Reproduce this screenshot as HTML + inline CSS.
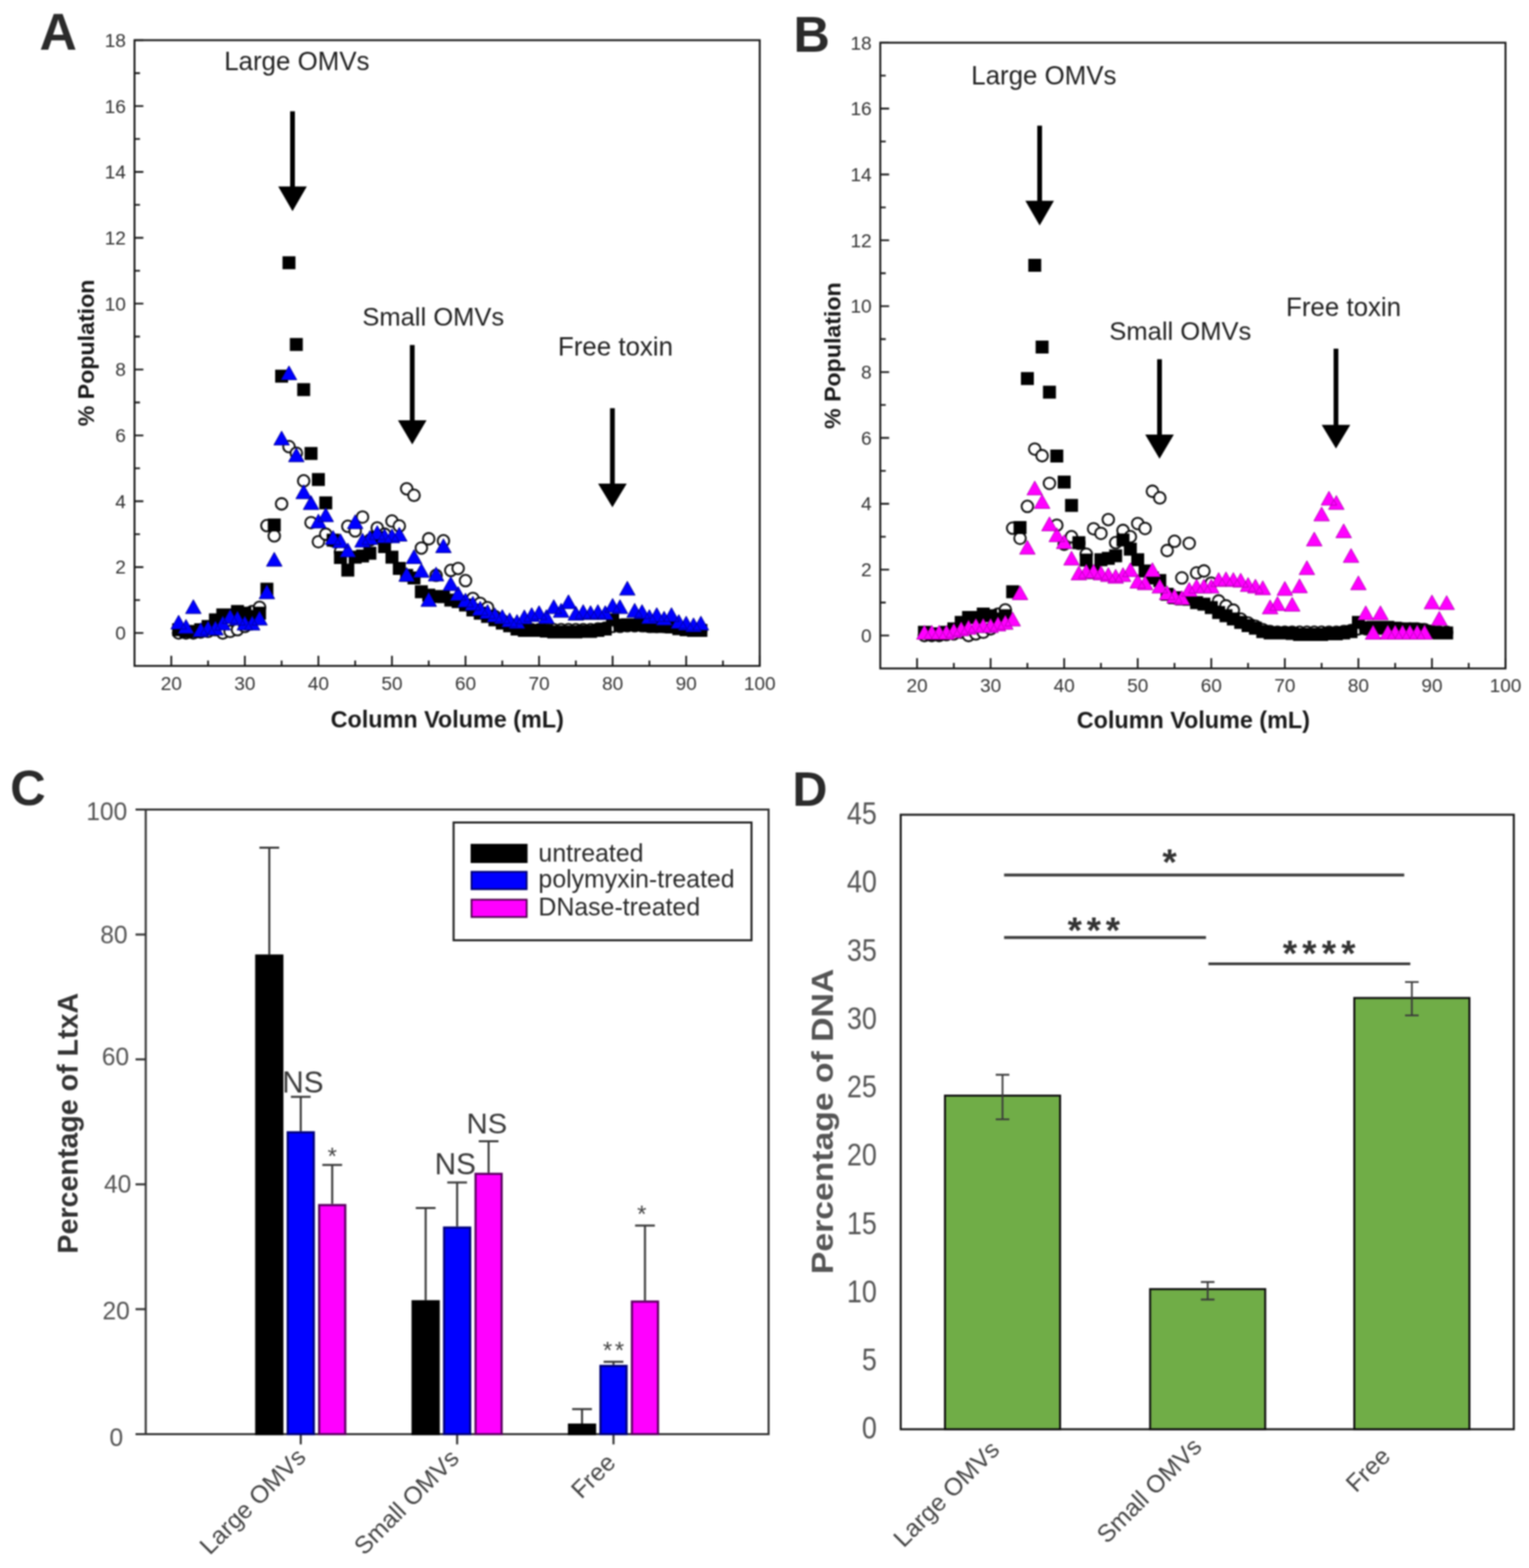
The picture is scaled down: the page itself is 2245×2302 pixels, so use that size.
<!DOCTYPE html>
<html><head><meta charset="utf-8"><title>Figure</title>
<style>html,body{margin:0;padding:0;background:#fff;}svg{display:block;filter:blur(1px);}text{font-family:'Liberation Sans', Arial, sans-serif;}</style>
</head><body>
<svg width="2245" height="2302" viewBox="0 0 2245 2302">
<rect width="2245" height="2302" fill="#fff"/>
<g>
<rect x="197.5" y="59" width="918" height="918.65" fill="none" stroke="#1a1a1a" stroke-width="2.8"/>
<path d="M251.5 977.65v-15 M305.5 977.65v-8 M359.5 977.65v-15 M413.5 977.65v-8 M467.5 977.65v-15 M521.5 977.65v-8 M575.5 977.65v-15 M629.5 977.65v-8 M683.5 977.65v-15 M737.5 977.65v-8 M791.5 977.65v-15 M845.5 977.65v-8 M899.5 977.65v-15 M953.5 977.65v-8 M1007.5 977.65v-15 M1061.5 977.65v-8 M1115.5 977.65v-15 M197.5 929.3h13 M197.5 880.95h8 M197.5 832.6h13 M197.5 784.25h8 M197.5 735.9h13 M197.5 687.55h8 M197.5 639.2h13 M197.5 590.85h8 M197.5 542.5h13 M197.5 494.15h8 M197.5 445.8h13 M197.5 397.45h8 M197.5 349.1h13 M197.5 300.75h8 M197.5 252.4h13 M197.5 204.05h8 M197.5 155.7h13 M197.5 107.35h8 M197.5 59h13" stroke="#1a1a1a" stroke-width="2.6" fill="none"/>
<text x="251.5" y="1012.65" font-size="28" fill="#333" text-anchor="middle" font-weight="normal" >20</text>
<text x="359.5" y="1012.65" font-size="28" fill="#333" text-anchor="middle" font-weight="normal" >30</text>
<text x="467.5" y="1012.65" font-size="28" fill="#333" text-anchor="middle" font-weight="normal" >40</text>
<text x="575.5" y="1012.65" font-size="28" fill="#333" text-anchor="middle" font-weight="normal" >50</text>
<text x="683.5" y="1012.65" font-size="28" fill="#333" text-anchor="middle" font-weight="normal" >60</text>
<text x="791.5" y="1012.65" font-size="28" fill="#333" text-anchor="middle" font-weight="normal" >70</text>
<text x="899.5" y="1012.65" font-size="28" fill="#333" text-anchor="middle" font-weight="normal" >80</text>
<text x="1007.5" y="1012.65" font-size="28" fill="#333" text-anchor="middle" font-weight="normal" >90</text>
<text x="1115.5" y="1012.65" font-size="28" fill="#333" text-anchor="middle" font-weight="normal" >100</text>
<text x="184.8" y="939.1" font-size="28" fill="#333" text-anchor="end" font-weight="normal" >0</text>
<text x="184.8" y="842.4" font-size="28" fill="#333" text-anchor="end" font-weight="normal" >2</text>
<text x="184.8" y="745.7" font-size="28" fill="#333" text-anchor="end" font-weight="normal" >4</text>
<text x="184.8" y="649" font-size="28" fill="#333" text-anchor="end" font-weight="normal" >6</text>
<text x="184.8" y="552.3" font-size="28" fill="#333" text-anchor="end" font-weight="normal" >8</text>
<text x="184.8" y="455.6" font-size="28" fill="#333" text-anchor="end" font-weight="normal" >10</text>
<text x="184.8" y="358.9" font-size="28" fill="#333" text-anchor="end" font-weight="normal" >12</text>
<text x="184.8" y="262.2" font-size="28" fill="#333" text-anchor="end" font-weight="normal" >14</text>
<text x="184.8" y="165.5" font-size="28" fill="#333" text-anchor="end" font-weight="normal" >16</text>
<text x="184.8" y="68.8" font-size="28" fill="#333" text-anchor="end" font-weight="normal" >18</text>
<g fill="#fff" stroke="#111" stroke-width="2.8"><circle cx="262.3" cy="929.3" r="8.5"/><circle cx="273.1" cy="929.3" r="8.5"/><circle cx="283.9" cy="929.3" r="8.5"/><circle cx="294.7" cy="927.85" r="8.5"/><circle cx="305.5" cy="926.88" r="8.5"/><circle cx="316.3" cy="924.46" r="8.5"/><circle cx="327.1" cy="929.3" r="8.5"/><circle cx="337.9" cy="926.88" r="8.5"/><circle cx="348.7" cy="924.46" r="8.5"/><circle cx="359.5" cy="919.63" r="8.5"/><circle cx="370.3" cy="897.87" r="8.5"/><circle cx="381.1" cy="891.59" r="8.5"/><circle cx="391.9" cy="771.68" r="8.5"/><circle cx="402.7" cy="786.67" r="8.5"/><circle cx="413.5" cy="739.77" r="8.5"/><circle cx="424.3" cy="655.64" r="8.5"/><circle cx="435.1" cy="665.31" r="8.5"/><circle cx="445.9" cy="705.92" r="8.5"/><circle cx="456.7" cy="767.33" r="8.5"/><circle cx="467.5" cy="795.37" r="8.5"/><circle cx="478.3" cy="784.25" r="8.5"/><circle cx="489.1" cy="793.92" r="8.5"/><circle cx="499.9" cy="809.88" r="8.5"/><circle cx="510.7" cy="772.65" r="8.5"/><circle cx="521.5" cy="779.41" r="8.5"/><circle cx="532.3" cy="759.11" r="8.5"/><circle cx="543.1" cy="792.95" r="8.5"/><circle cx="553.9" cy="775.06" r="8.5"/><circle cx="564.7" cy="784.25" r="8.5"/><circle cx="575.5" cy="764.91" r="8.5"/><circle cx="586.3" cy="772.16" r="8.5"/><circle cx="597.1" cy="717.53" r="8.5"/><circle cx="607.9" cy="727.2" r="8.5"/><circle cx="618.7" cy="804.56" r="8.5"/><circle cx="629.5" cy="791.02" r="8.5"/><circle cx="640.3" cy="844.69" r="8.5"/><circle cx="651.1" cy="793.92" r="8.5"/><circle cx="661.9" cy="837.43" r="8.5"/><circle cx="672.7" cy="834.53" r="8.5"/><circle cx="683.5" cy="852.42" r="8.5"/><circle cx="694.3" cy="878.53" r="8.5"/><circle cx="705.1" cy="885.78" r="8.5"/><circle cx="715.9" cy="892.07" r="8.5"/><circle cx="726.7" cy="905.12" r="8.5"/><circle cx="737.5" cy="910.93" r="8.5"/><circle cx="748.3" cy="915.76" r="8.5"/><circle cx="759.1" cy="920.6" r="8.5"/><circle cx="769.9" cy="923.5" r="8.5"/><circle cx="780.7" cy="924.46" r="8.5"/><circle cx="791.5" cy="924.46" r="8.5"/><circle cx="802.3" cy="924.46" r="8.5"/><circle cx="813.1" cy="924.46" r="8.5"/><circle cx="823.9" cy="924.46" r="8.5"/><circle cx="834.7" cy="924.46" r="8.5"/><circle cx="845.5" cy="924.46" r="8.5"/><circle cx="856.3" cy="924.46" r="8.5"/><circle cx="867.1" cy="924.46" r="8.5"/><circle cx="877.9" cy="923.5" r="8.5"/><circle cx="888.7" cy="922.05" r="8.5"/><circle cx="899.5" cy="919.63" r="8.5"/><circle cx="910.3" cy="919.63" r="8.5"/><circle cx="921.1" cy="918.66" r="8.5"/><circle cx="931.9" cy="918.66" r="8.5"/><circle cx="942.7" cy="918.66" r="8.5"/><circle cx="953.5" cy="919.63" r="8.5"/><circle cx="964.3" cy="919.63" r="8.5"/><circle cx="975.1" cy="919.63" r="8.5"/><circle cx="985.9" cy="919.63" r="8.5"/><circle cx="996.7" cy="920.6" r="8.5"/><circle cx="1007.5" cy="923.5" r="8.5"/><circle cx="1018.3" cy="924.46" r="8.5"/><circle cx="1029.1" cy="924.46" r="8.5"/></g>
<path fill="#000" d="M252.8 914.96h19.0v19.0h-19.0z M263.6 917.38h19.0v19.0h-19.0z M274.4 917.38h19.0v19.0h-19.0z M285.2 914.96h19.0v19.0h-19.0z M296 910.13h19.0v19.0h-19.0z M306.8 900.46h19.0v19.0h-19.0z M317.6 893.21h19.0v19.0h-19.0z M328.4 893.21h19.0v19.0h-19.0z M339.2 888.37h19.0v19.0h-19.0z M350 890.79h19.0v19.0h-19.0z M360.8 895.62h19.0v19.0h-19.0z M371.6 890.79h19.0v19.0h-19.0z M382.4 855.49h19.0v19.0h-19.0z M393.2 761.21h19.0v19.0h-19.0z M404 542.67h19.0v19.0h-19.0z M414.8 376.35h19.0v19.0h-19.0z M425.6 496.25h19.0v19.0h-19.0z M436.4 562.49h19.0v19.0h-19.0z M447.2 656.29h19.0v19.0h-19.0z M458 694.49h19.0v19.0h-19.0z M468.8 728.82h19.0v19.0h-19.0z M479.6 783.45h19.0v19.0h-19.0z M490.4 809.08h19.0v19.0h-19.0z M501.2 827.45h19.0v19.0h-19.0z M512 808.59h19.0v19.0h-19.0z M522.8 806.66h19.0v19.0h-19.0z M533.6 802.79h19.0v19.0h-19.0z M544.4 779.58h19.0v19.0h-19.0z M555.2 793.12h19.0v19.0h-19.0z M566 808.59h19.0v19.0h-19.0z M576.8 825.03h19.0v19.0h-19.0z M587.6 835.19h19.0v19.0h-19.0z M598.4 839.06h19.0v19.0h-19.0z M609.2 859.36h19.0v19.0h-19.0z M620 864.2h19.0v19.0h-19.0z M630.8 866.13h19.0v19.0h-19.0z M641.6 866.61h19.0v19.0h-19.0z M652.4 871.45h19.0v19.0h-19.0z M663.2 873.87h19.0v19.0h-19.0z M674 878.7h19.0v19.0h-19.0z M684.8 885.95h19.0v19.0h-19.0z M695.6 890.79h19.0v19.0h-19.0z M706.4 895.62h19.0v19.0h-19.0z M717.2 900.46h19.0v19.0h-19.0z M728 905.29h19.0v19.0h-19.0z M738.8 909.16h19.0v19.0h-19.0z M749.6 914h19.0v19.0h-19.0z M760.4 915.93h19.0v19.0h-19.0z M771.2 915.93h19.0v19.0h-19.0z M782 915.93h19.0v19.0h-19.0z M792.8 916.9h19.0v19.0h-19.0z M803.6 918.35h19.0v19.0h-19.0z M814.4 918.35h19.0v19.0h-19.0z M825.2 918.35h19.0v19.0h-19.0z M836 918.35h19.0v19.0h-19.0z M846.8 917.38h19.0v19.0h-19.0z M857.6 917.38h19.0v19.0h-19.0z M868.4 915.93h19.0v19.0h-19.0z M879.2 914h19.0v19.0h-19.0z M890 900.46h19.0v19.0h-19.0z M900.8 908.2h19.0v19.0h-19.0z M911.6 907.71h19.0v19.0h-19.0z M922.4 907.71h19.0v19.0h-19.0z M933.2 907.71h19.0v19.0h-19.0z M944 909.16h19.0v19.0h-19.0z M954.8 910.13h19.0v19.0h-19.0z M965.6 910.13h19.0v19.0h-19.0z M976.4 911.1h19.0v19.0h-19.0z M987.2 913.51h19.0v19.0h-19.0z M998 914.96h19.0v19.0h-19.0z M1008.8 915.93h19.0v19.0h-19.0z M1019.6 915.93h19.0v19.0h-19.0z"/>
<path fill="#0000ff" stroke="#00008a" stroke-width="1" stroke-linejoin="round" d="M262.3 903.09L273.8 923.59H250.8z M273.1 909.38L284.6 929.88H261.6z M283.9 880.37L295.4 900.87H272.4z M294.7 914.21L306.2 934.71H283.2z M305.5 911.8L317 932.3H294z M316.3 911.8L327.8 932.3H304.8z M327.1 904.54L338.6 925.04H315.6z M337.9 894.88L349.4 915.38H326.4z M348.7 897.29L360.2 917.79H337.2z M359.5 904.54L371 925.04H348z M370.3 904.54L381.8 925.04H358.8z M381.1 897.29L392.6 917.79H369.6z M391.9 858.61L403.4 879.11H380.4z M402.7 810.75L414.2 831.25H391.2z M413.5 632.82L425 653.32H402z M424.3 537.08L435.8 557.58H412.8z M435.1 657.48L446.6 677.98H423.6z M445.9 711.63L457.4 732.13H434.4z M456.7 727.58L468.2 748.08H445.2z M467.5 754.66L479 775.16H456z M478.3 745.47L489.8 765.97H466.8z M489.1 778.83L500.6 799.33H477.6z M499.9 783.67L511.4 804.17H488.4z M510.7 797.21L522.2 817.71H499.2z M521.5 755.63L533 776.13H510z M532.3 782.7L543.8 803.2H520.8z M543.1 778.83L554.6 799.33H531.6z M553.9 771.58L565.4 792.08H542.4z M564.7 776.42L576.2 796.92H553.2z M575.5 776.42L587 796.92H564z M586.3 774L597.8 794.5H574.8z M597.1 832.99L608.6 853.49H585.6z M607.9 806.88L619.4 827.38H596.4z M618.7 827.18L630.2 847.68H607.2z M629.5 869.73L641 890.23H618z M640.3 832.5L651.8 853H628.8z M651.1 790.92L662.6 811.42H639.6z M661.9 846.52L673.4 867.02H650.4z M672.7 861.03L684.2 881.53H661.2z M683.5 870.7L695 891.2H672z M694.3 875.53L705.8 896.03H682.8z M705.1 882.79L716.6 903.29H693.6z M715.9 887.62L727.4 908.12H704.4z M726.7 892.46L738.2 912.96H715.2z M737.5 894.88L749 915.38H726z M748.3 899.71L759.8 920.21H736.8z M759.1 902.13L770.6 922.63H747.6z M769.9 895.36L781.4 915.86H758.4z M780.7 891.97L792.2 912.47H769.2z M791.5 889.07L803 909.57H780z M802.3 894.88L813.8 915.38H790.8z M813.1 880.37L824.6 900.87H801.6z M823.9 885.69L835.4 906.19H812.4z M834.7 873.12L846.2 893.62H823.2z M845.5 890.04L857 910.54H834z M856.3 887.62L867.8 908.12H844.8z M867.1 889.07L878.6 909.57H855.6z M877.9 887.62L889.4 908.12H866.4z M888.7 889.07L900.2 909.57H877.2z M899.5 878.44L911 898.94H888z M910.3 880.37L921.8 900.87H898.8z M921.1 853.29L932.6 873.79H909.6z M931.9 885.69L943.4 906.19H920.4z M942.7 887.62L954.2 908.12H931.2z M953.5 894.88L965 915.38H942z M964.3 891.97L975.8 912.47H952.8z M975.1 897.29L986.6 917.79H963.6z M985.9 891.97L997.4 912.47H974.4z M996.7 902.13L1008.2 922.63H985.2z M1007.5 904.54L1019 925.04H996z M1018.3 906.96L1029.8 927.46H1006.8z M1029.1 904.54L1040.6 925.04H1017.6z"/>
<text x="329.2" y="102.8" font-size="38" fill="#222" text-anchor="start" font-weight="normal" >Large OMVs</text>
<rect x="426" y="163.4" width="7" height="112.3" fill="#000"/>
<path d="M408.5 273.7H450.5L429.5 310z" fill="#000"/>
<text x="532" y="477.8" font-size="37.5" fill="#222" text-anchor="start" font-weight="normal" >Small OMVs</text>
<rect x="601.8" y="506.5" width="7" height="112.6" fill="#000"/>
<path d="M584.3 617.1H626.3L605.3 652.6z" fill="#000"/>
<text x="819.2" y="522" font-size="38" fill="#222" text-anchor="start" font-weight="normal" >Free toxin</text>
<rect x="895.7" y="599.3" width="7" height="112.6" fill="#000"/>
<path d="M878.2 709.9H920.2L899.2 744.8z" fill="#000"/>
</g>
<text x="656.7" y="1067.5" font-size="34.3" fill="#1a1a1a" text-anchor="middle" font-weight="bold" >Column Volume (mL)</text>
<text x="0" y="0" font-size="34" fill="#1a1a1a" text-anchor="middle" font-weight="bold" transform="translate(138.1 518.2) rotate(-90)">% Population</text>
<text x="58.1" y="72.5" font-size="76" fill="#2b2b2b" text-anchor="start" font-weight="bold" >A</text>
<g>
<rect x="1292.5" y="62.7" width="918" height="918.65" fill="none" stroke="#1a1a1a" stroke-width="2.8"/>
<path d="M1346.5 981.35v-15 M1400.5 981.35v-8 M1454.5 981.35v-15 M1508.5 981.35v-8 M1562.5 981.35v-15 M1616.5 981.35v-8 M1670.5 981.35v-15 M1724.5 981.35v-8 M1778.5 981.35v-15 M1832.5 981.35v-8 M1886.5 981.35v-15 M1940.5 981.35v-8 M1994.5 981.35v-15 M2048.5 981.35v-8 M2102.5 981.35v-15 M2156.5 981.35v-8 M2210.5 981.35v-15 M1292.5 933h13 M1292.5 884.65h8 M1292.5 836.3h13 M1292.5 787.95h8 M1292.5 739.6h13 M1292.5 691.25h8 M1292.5 642.9h13 M1292.5 594.55h8 M1292.5 546.2h13 M1292.5 497.85h8 M1292.5 449.5h13 M1292.5 401.15h8 M1292.5 352.8h13 M1292.5 304.45h8 M1292.5 256.1h13 M1292.5 207.75h8 M1292.5 159.4h13 M1292.5 111.05h8 M1292.5 62.7h13" stroke="#1a1a1a" stroke-width="2.6" fill="none"/>
<text x="1346.5" y="1016.35" font-size="28" fill="#333" text-anchor="middle" font-weight="normal" >20</text>
<text x="1454.5" y="1016.35" font-size="28" fill="#333" text-anchor="middle" font-weight="normal" >30</text>
<text x="1562.5" y="1016.35" font-size="28" fill="#333" text-anchor="middle" font-weight="normal" >40</text>
<text x="1670.5" y="1016.35" font-size="28" fill="#333" text-anchor="middle" font-weight="normal" >50</text>
<text x="1778.5" y="1016.35" font-size="28" fill="#333" text-anchor="middle" font-weight="normal" >60</text>
<text x="1886.5" y="1016.35" font-size="28" fill="#333" text-anchor="middle" font-weight="normal" >70</text>
<text x="1994.5" y="1016.35" font-size="28" fill="#333" text-anchor="middle" font-weight="normal" >80</text>
<text x="2102.5" y="1016.35" font-size="28" fill="#333" text-anchor="middle" font-weight="normal" >90</text>
<text x="2210.5" y="1016.35" font-size="28" fill="#333" text-anchor="middle" font-weight="normal" >100</text>
<text x="1279.8" y="942.8" font-size="28" fill="#333" text-anchor="end" font-weight="normal" >0</text>
<text x="1279.8" y="846.1" font-size="28" fill="#333" text-anchor="end" font-weight="normal" >2</text>
<text x="1279.8" y="749.4" font-size="28" fill="#333" text-anchor="end" font-weight="normal" >4</text>
<text x="1279.8" y="652.7" font-size="28" fill="#333" text-anchor="end" font-weight="normal" >6</text>
<text x="1279.8" y="556" font-size="28" fill="#333" text-anchor="end" font-weight="normal" >8</text>
<text x="1279.8" y="459.3" font-size="28" fill="#333" text-anchor="end" font-weight="normal" >10</text>
<text x="1279.8" y="362.6" font-size="28" fill="#333" text-anchor="end" font-weight="normal" >12</text>
<text x="1279.8" y="265.9" font-size="28" fill="#333" text-anchor="end" font-weight="normal" >14</text>
<text x="1279.8" y="169.2" font-size="28" fill="#333" text-anchor="end" font-weight="normal" >16</text>
<text x="1279.8" y="72.5" font-size="28" fill="#333" text-anchor="end" font-weight="normal" >18</text>
<g fill="#fff" stroke="#111" stroke-width="2.8"><circle cx="1357.3" cy="933" r="8.5"/><circle cx="1368.1" cy="933" r="8.5"/><circle cx="1378.9" cy="933" r="8.5"/><circle cx="1389.7" cy="931.55" r="8.5"/><circle cx="1400.5" cy="930.58" r="8.5"/><circle cx="1411.3" cy="928.16" r="8.5"/><circle cx="1422.1" cy="933" r="8.5"/><circle cx="1432.9" cy="930.58" r="8.5"/><circle cx="1443.7" cy="928.16" r="8.5"/><circle cx="1454.5" cy="923.33" r="8.5"/><circle cx="1465.3" cy="901.57" r="8.5"/><circle cx="1476.1" cy="895.29" r="8.5"/><circle cx="1486.9" cy="775.38" r="8.5"/><circle cx="1497.7" cy="790.37" r="8.5"/><circle cx="1508.5" cy="743.47" r="8.5"/><circle cx="1519.3" cy="659.34" r="8.5"/><circle cx="1530.1" cy="669.01" r="8.5"/><circle cx="1540.9" cy="709.62" r="8.5"/><circle cx="1551.7" cy="771.03" r="8.5"/><circle cx="1562.5" cy="799.07" r="8.5"/><circle cx="1573.3" cy="787.95" r="8.5"/><circle cx="1584.1" cy="797.62" r="8.5"/><circle cx="1594.9" cy="813.58" r="8.5"/><circle cx="1605.7" cy="776.35" r="8.5"/><circle cx="1616.5" cy="783.12" r="8.5"/><circle cx="1627.3" cy="762.81" r="8.5"/><circle cx="1638.1" cy="796.65" r="8.5"/><circle cx="1648.9" cy="778.76" r="8.5"/><circle cx="1659.7" cy="787.95" r="8.5"/><circle cx="1670.5" cy="768.61" r="8.5"/><circle cx="1681.3" cy="775.86" r="8.5"/><circle cx="1692.1" cy="721.23" r="8.5"/><circle cx="1702.9" cy="730.9" r="8.5"/><circle cx="1713.7" cy="808.26" r="8.5"/><circle cx="1724.5" cy="794.72" r="8.5"/><circle cx="1735.3" cy="848.39" r="8.5"/><circle cx="1746.1" cy="797.62" r="8.5"/><circle cx="1756.9" cy="841.13" r="8.5"/><circle cx="1767.7" cy="838.23" r="8.5"/><circle cx="1778.5" cy="856.12" r="8.5"/><circle cx="1789.3" cy="882.23" r="8.5"/><circle cx="1800.1" cy="889.49" r="8.5"/><circle cx="1810.9" cy="895.77" r="8.5"/><circle cx="1821.7" cy="908.83" r="8.5"/><circle cx="1832.5" cy="914.63" r="8.5"/><circle cx="1843.3" cy="919.46" r="8.5"/><circle cx="1854.1" cy="924.3" r="8.5"/><circle cx="1864.9" cy="927.2" r="8.5"/><circle cx="1875.7" cy="928.16" r="8.5"/><circle cx="1886.5" cy="928.16" r="8.5"/><circle cx="1897.3" cy="928.16" r="8.5"/><circle cx="1908.1" cy="928.16" r="8.5"/><circle cx="1918.9" cy="928.16" r="8.5"/><circle cx="1929.7" cy="928.16" r="8.5"/><circle cx="1940.5" cy="928.16" r="8.5"/><circle cx="1951.3" cy="928.16" r="8.5"/><circle cx="1962.1" cy="928.16" r="8.5"/><circle cx="1972.9" cy="927.2" r="8.5"/><circle cx="1983.7" cy="925.75" r="8.5"/><circle cx="1994.5" cy="923.33" r="8.5"/><circle cx="2005.3" cy="923.33" r="8.5"/><circle cx="2016.1" cy="922.36" r="8.5"/><circle cx="2026.9" cy="922.36" r="8.5"/><circle cx="2037.7" cy="922.36" r="8.5"/><circle cx="2048.5" cy="923.33" r="8.5"/><circle cx="2059.3" cy="923.33" r="8.5"/><circle cx="2070.1" cy="923.33" r="8.5"/><circle cx="2080.9" cy="923.33" r="8.5"/><circle cx="2091.7" cy="924.3" r="8.5"/><circle cx="2102.5" cy="927.2" r="8.5"/><circle cx="2113.3" cy="928.16" r="8.5"/><circle cx="2124.1" cy="928.16" r="8.5"/></g>
<path fill="#000" d="M1347.8 918.66h19.0v19.0h-19.0z M1358.6 921.08h19.0v19.0h-19.0z M1369.4 921.08h19.0v19.0h-19.0z M1380.2 918.66h19.0v19.0h-19.0z M1391 913.83h19.0v19.0h-19.0z M1401.8 904.16h19.0v19.0h-19.0z M1412.6 896.91h19.0v19.0h-19.0z M1423.4 896.91h19.0v19.0h-19.0z M1434.2 892.07h19.0v19.0h-19.0z M1445 894.49h19.0v19.0h-19.0z M1455.8 899.33h19.0v19.0h-19.0z M1466.6 894.49h19.0v19.0h-19.0z M1477.4 859.19h19.0v19.0h-19.0z M1488.2 764.91h19.0v19.0h-19.0z M1499 546.37h19.0v19.0h-19.0z M1509.8 380.05h19.0v19.0h-19.0z M1520.6 499.95h19.0v19.0h-19.0z M1531.4 566.19h19.0v19.0h-19.0z M1542.2 659.99h19.0v19.0h-19.0z M1553 698.19h19.0v19.0h-19.0z M1563.8 732.52h19.0v19.0h-19.0z M1574.6 787.15h19.0v19.0h-19.0z M1585.4 812.78h19.0v19.0h-19.0z M1596.2 831.15h19.0v19.0h-19.0z M1607 812.29h19.0v19.0h-19.0z M1617.8 810.36h19.0v19.0h-19.0z M1628.6 806.49h19.0v19.0h-19.0z M1639.4 783.28h19.0v19.0h-19.0z M1650.2 796.82h19.0v19.0h-19.0z M1661 812.29h19.0v19.0h-19.0z M1671.8 828.73h19.0v19.0h-19.0z M1682.6 838.89h19.0v19.0h-19.0z M1693.4 842.76h19.0v19.0h-19.0z M1704.2 863.06h19.0v19.0h-19.0z M1715 867.9h19.0v19.0h-19.0z M1725.8 869.83h19.0v19.0h-19.0z M1736.6 870.31h19.0v19.0h-19.0z M1747.4 875.15h19.0v19.0h-19.0z M1758.2 877.57h19.0v19.0h-19.0z M1769 882.4h19.0v19.0h-19.0z M1779.8 889.65h19.0v19.0h-19.0z M1790.6 894.49h19.0v19.0h-19.0z M1801.4 899.33h19.0v19.0h-19.0z M1812.2 904.16h19.0v19.0h-19.0z M1823 909h19.0v19.0h-19.0z M1833.8 912.86h19.0v19.0h-19.0z M1844.6 917.7h19.0v19.0h-19.0z M1855.4 919.63h19.0v19.0h-19.0z M1866.2 919.63h19.0v19.0h-19.0z M1877 919.63h19.0v19.0h-19.0z M1887.8 920.6h19.0v19.0h-19.0z M1898.6 922.05h19.0v19.0h-19.0z M1909.4 922.05h19.0v19.0h-19.0z M1920.2 922.05h19.0v19.0h-19.0z M1931 922.05h19.0v19.0h-19.0z M1941.8 921.08h19.0v19.0h-19.0z M1952.6 921.08h19.0v19.0h-19.0z M1963.4 919.63h19.0v19.0h-19.0z M1974.2 917.7h19.0v19.0h-19.0z M1985 904.16h19.0v19.0h-19.0z M1995.8 911.9h19.0v19.0h-19.0z M2006.6 911.41h19.0v19.0h-19.0z M2017.4 911.41h19.0v19.0h-19.0z M2028.2 911.41h19.0v19.0h-19.0z M2039 912.86h19.0v19.0h-19.0z M2049.8 913.83h19.0v19.0h-19.0z M2060.6 913.83h19.0v19.0h-19.0z M2071.4 914.8h19.0v19.0h-19.0z M2082.2 917.21h19.0v19.0h-19.0z M2093 918.66h19.0v19.0h-19.0z M2103.8 919.63h19.0v19.0h-19.0z M2114.6 919.63h19.0v19.0h-19.0z"/>
<path fill="#ff00ff" stroke="#b000b0" stroke-width="1" stroke-linejoin="round" d="M1357.3 917.91L1368.8 938.41H1345.8z M1368.1 917.91L1379.6 938.41H1356.6z M1378.9 917.91L1390.4 938.41H1367.4z M1389.7 917.91L1401.2 938.41H1378.2z M1400.5 915.5L1412 936H1389z M1411.3 913.08L1422.8 933.58H1399.8z M1422.1 910.66L1433.6 931.16H1410.6z M1432.9 908.25L1444.4 928.75H1421.4z M1443.7 908.25L1455.2 928.75H1432.2z M1454.5 908.25L1466 928.75H1443z M1465.3 905.83L1476.8 926.33H1453.8z M1476.1 903.41L1487.6 923.91H1464.6z M1486.9 898.58L1498.4 919.08H1475.4z M1497.7 859.89L1509.2 880.39H1486.2z M1508.5 793.17L1520 813.67H1497z M1519.3 706.14L1530.8 726.64H1507.8z M1530.1 725.97L1541.6 746.47H1518.6z M1540.9 758.84L1552.4 779.34H1529.4z M1551.7 774.8L1563.2 795.3H1540.2z M1562.5 784.95L1574 805.45H1551z M1573.3 809.13L1584.8 829.63H1561.8z M1584.1 830.88L1595.6 851.38H1572.6z M1594.9 828.47L1606.4 848.97H1583.4z M1605.7 828.47L1617.2 848.97H1594.2z M1616.5 830.88L1628 851.38H1605z M1627.3 833.3L1638.8 853.8H1615.8z M1638.1 835.72L1649.6 856.22H1626.6z M1648.9 833.3L1660.4 853.8H1637.4z M1659.7 826.05L1671.2 846.55H1648.2z M1670.5 842.97L1682 863.47H1659z M1681.3 845.39L1692.8 865.89H1669.8z M1692.1 826.05L1703.6 846.55H1680.6z M1702.9 850.23L1714.4 870.73H1691.4z M1713.7 859.89L1725.2 880.39H1702.2z M1724.5 864.73L1736 885.23H1713z M1735.3 867.15L1746.8 887.65H1723.8z M1746.1 855.06L1757.6 875.56H1734.6z M1756.9 850.23L1768.4 870.73H1745.4z M1767.7 850.23L1779.2 870.73H1756.2z M1778.5 850.23L1790 870.73H1767z M1789.3 840.56L1800.8 861.06H1777.8z M1800.1 839.59L1811.6 860.09H1788.6z M1810.9 840.56L1822.4 861.06H1799.4z M1821.7 841.52L1833.2 862.02H1810.2z M1832.5 847.81L1844 868.31H1821z M1843.3 850.23L1854.8 870.73H1831.8z M1854.1 852.64L1865.6 873.14H1842.6z M1864.9 880.69L1876.4 901.19H1853.4z M1875.7 875.85L1887.2 896.35H1864.2z M1886.5 853.61L1898 874.11H1875z M1897.3 876.82L1908.8 897.32H1885.8z M1908.1 849.74L1919.6 870.24H1896.6z M1918.9 823.15L1930.4 843.65H1907.4z M1929.7 781.08L1941.2 801.58H1918.2z M1940.5 744.34L1952 764.84H1929z M1951.3 721.13L1962.8 741.63H1939.8z M1962.1 727.42L1973.6 747.92H1950.6z M1972.9 769L1984.4 789.5H1961.4z M1983.7 805.26L1995.2 825.76H1972.2z M1994.5 845.39L2006 865.89H1983z M2005.3 889.39L2016.8 909.89H1993.8z M2016.1 917.91L2027.6 938.41H2004.6z M2026.9 889.39L2038.4 909.89H2015.4z M2037.7 917.91L2049.2 938.41H2026.2z M2048.5 917.91L2060 938.41H2037z M2059.3 917.91L2070.8 938.41H2047.8z M2070.1 917.91L2081.6 938.41H2058.6z M2080.9 917.91L2092.4 938.41H2069.4z M2091.7 917.91L2103.2 938.41H2080.2z M2102.5 873.43L2114 893.93H2091z M2113.3 897.61L2124.8 918.11H2101.8z M2124.1 874.4L2135.6 894.9H2112.6z"/>
<text x="1426" y="123.8" font-size="38" fill="#222" text-anchor="start" font-weight="normal" >Large OMVs</text>
<rect x="1523" y="184.5" width="7" height="112.3" fill="#000"/>
<path d="M1505.5 294.8H1547.5L1526.5 331z" fill="#000"/>
<text x="1628.8" y="498.7" font-size="37.5" fill="#222" text-anchor="start" font-weight="normal" >Small OMVs</text>
<rect x="1699" y="527.4" width="7" height="112.6" fill="#000"/>
<path d="M1681.5 638H1723.5L1702.5 673.5z" fill="#000"/>
<text x="1888.2" y="463.9" font-size="38" fill="#222" text-anchor="start" font-weight="normal" >Free toxin</text>
<rect x="1958.1" y="511.9" width="7" height="113.9" fill="#000"/>
<path d="M1940.6 623.8H1982.6L1961.6 658.4z" fill="#000"/>
</g>
<text x="1752.2" y="1069.3" font-size="34.3" fill="#1a1a1a" text-anchor="middle" font-weight="bold" >Column Volume (mL)</text>
<text x="0" y="0" font-size="34" fill="#1a1a1a" text-anchor="middle" font-weight="bold" transform="translate(1233.8 522.1) rotate(-90)">% Population</text>
<text x="1165" y="75.6" font-size="74" fill="#2b2b2b" text-anchor="start" font-weight="bold" >B</text>
<g>
<rect x="214" y="1188.5" width="914.5" height="917" fill="none" stroke="#333" stroke-width="3"/>
<path d="M214 2105.5h-15 M214 1922.1h-15 M214 1738.7h-15 M214 1555.3h-15 M214 1371.9h-15 M214 1188.5h-15 M441.6 2105.5v15 M671.2 2105.5v15 M900.8 2105.5v15" stroke="#333" stroke-width="3" fill="none"/>
<text x="186.9" y="1204.1" font-size="36" fill="#555" text-anchor="end" font-weight="normal" >100</text>
<text x="187.2" y="1384.7" font-size="36" fill="#555" text-anchor="end" font-weight="normal" >80</text>
<text x="189.5" y="1564.2" font-size="36" fill="#555" text-anchor="end" font-weight="normal" >60</text>
<text x="192.9" y="1750.5" font-size="36" fill="#555" text-anchor="end" font-weight="normal" >40</text>
<text x="190.6" y="1936.8" font-size="36" fill="#555" text-anchor="end" font-weight="normal" >20</text>
<text x="180.9" y="2123.1" font-size="36" fill="#555" text-anchor="end" font-weight="normal" >0</text>
<path d="M395.4 1401.24V1244.44M380.9 1244.44h29" stroke="#3a3a3a" stroke-width="3" fill="none"/>
<rect x="376.25" y="1402.84" width="38.3" height="702.66" fill="#000" stroke="#000" stroke-width="3.2"/>
<path d="M441.6 1660.76V1610.32M427.1 1610.32h29" stroke="#3a3a3a" stroke-width="3" fill="none"/>
<rect x="422.45" y="1662.36" width="38.3" height="443.14" fill="#0000ff" stroke="#00007a" stroke-width="3.2"/>
<path d="M487.8 1767.59V1710.27M473.3 1710.27h29" stroke="#3a3a3a" stroke-width="3" fill="none"/>
<rect x="468.65" y="1769.19" width="38.3" height="336.31" fill="#ff00ff" stroke="#5a0060" stroke-width="3.2"/>
<path d="M625 1908.8V1773.55M610.5 1773.55h29" stroke="#3a3a3a" stroke-width="3" fill="none"/>
<rect x="605.85" y="1910.4" width="38.3" height="195.1" fill="#000" stroke="#000" stroke-width="3.2"/>
<path d="M671.2 1800.6V1735.95M656.7 1735.95h29" stroke="#3a3a3a" stroke-width="3" fill="none"/>
<rect x="652.05" y="1802.2" width="38.3" height="303.3" fill="#0000ff" stroke="#00007a" stroke-width="3.2"/>
<path d="M717.4 1721.74V1675.43M702.9 1675.43h29" stroke="#3a3a3a" stroke-width="3" fill="none"/>
<rect x="698.25" y="1723.34" width="38.3" height="382.16" fill="#ff00ff" stroke="#5a0060" stroke-width="3.2"/>
<path d="M854.6 2089.91V2068.82M840.1 2068.82h29" stroke="#3a3a3a" stroke-width="3" fill="none"/>
<rect x="835.45" y="2091.51" width="38.3" height="13.99" fill="#000" stroke="#000" stroke-width="3.2"/>
<path d="M900.8 2003.71V1999.13M886.3 1999.13h29" stroke="#3a3a3a" stroke-width="3" fill="none"/>
<rect x="881.65" y="2005.31" width="38.3" height="100.19" fill="#0000ff" stroke="#00007a" stroke-width="3.2"/>
<path d="M947 1909.26V1799.22M932.5 1799.22h29" stroke="#3a3a3a" stroke-width="3" fill="none"/>
<rect x="927.85" y="1910.86" width="38.3" height="194.64" fill="#ff00ff" stroke="#5a0060" stroke-width="3.2"/>
<text x="414.5" y="1603.6" font-size="43.5" fill="#3a3a3a" text-anchor="start" font-weight="normal" >NS</text>
<text x="638.3" y="1723.5" font-size="43.5" fill="#3a3a3a" text-anchor="start" font-weight="normal" >NS</text>
<text x="685" y="1663.6" font-size="43" fill="#3a3a3a" text-anchor="start" font-weight="normal" >NS</text>
<text x="487.9" y="1708.5" font-size="35" fill="#444" text-anchor="middle" font-weight="normal" >*</text>
<text x="942.2" y="1793.9" font-size="35" fill="#444" text-anchor="middle" font-weight="normal" >*</text>
<text x="885.2" y="1994.4" font-size="35" fill="#444" text-anchor="start" font-weight="normal" letter-spacing="3.9">**</text>
<rect x="666" y="1207.5" width="437.4" height="172.9" fill="#fff" stroke="#222" stroke-width="3"/>
<rect x="692.3" y="1240.2" width="81" height="25.5" fill="#000" stroke="#000" stroke-width="2.6"/>
<text x="790.6" y="1265" font-size="36.5" fill="#2a2a2a" text-anchor="start" font-weight="normal" >untreated</text>
<rect x="692.3" y="1279.9" width="81" height="25.5" fill="#0000ff" stroke="#000070" stroke-width="2.6"/>
<text x="790.6" y="1303.4" font-size="36.5" fill="#2a2a2a" text-anchor="start" font-weight="normal" >polymyxin-treated</text>
<rect x="692.3" y="1320.8" width="81" height="25.5" fill="#ff00ff" stroke="#500050" stroke-width="2.6"/>
<text x="790.6" y="1344.3" font-size="36.5" fill="#2a2a2a" text-anchor="start" font-weight="normal" >DNase-treated</text>
<text x="0" y="0" font-size="42" fill="#333" text-anchor="middle" font-weight="bold" transform="translate(114 1649) rotate(-90)">Percentage of LtxA</text>
<text x="0" y="0" font-size="36" fill="#444" text-anchor="end" font-weight="normal" transform="translate(451 2141.2) rotate(-45)">Large OMVs</text>
<text x="0" y="0" font-size="36" fill="#444" text-anchor="end" font-weight="normal" transform="translate(676.1 2143.1) rotate(-45)">Small OMVs</text>
<text x="0" y="0" font-size="36" fill="#444" text-anchor="end" font-weight="normal" transform="translate(905.8 2149.4) rotate(-45)">Free</text>
<text x="15" y="1182.3" font-size="72" fill="#2b2b2b" text-anchor="start" font-weight="bold" >C</text>
</g>
<g>
<rect x="1322.5" y="1196.1" width="900.2" height="902.2" fill="none" stroke="#1a1a1a" stroke-width="3"/>
<text x="0" y="0" font-size="39.5" fill="#555" text-anchor="end" font-weight="normal" transform="translate(1287.4 2112.36) scale(1 1.18)">0</text>
<text x="0" y="0" font-size="39.5" fill="#555" text-anchor="end" font-weight="normal" transform="translate(1287.4 2012.11) scale(1 1.18)">5</text>
<text x="0" y="0" font-size="39.5" fill="#555" text-anchor="end" font-weight="normal" transform="translate(1287.4 1911.87) scale(1 1.18)">10</text>
<text x="0" y="0" font-size="39.5" fill="#555" text-anchor="end" font-weight="normal" transform="translate(1287.4 1811.62) scale(1 1.18)">15</text>
<text x="0" y="0" font-size="39.5" fill="#555" text-anchor="end" font-weight="normal" transform="translate(1287.4 1711.38) scale(1 1.18)">20</text>
<text x="0" y="0" font-size="39.5" fill="#555" text-anchor="end" font-weight="normal" transform="translate(1287.4 1611.13) scale(1 1.18)">25</text>
<text x="0" y="0" font-size="39.5" fill="#555" text-anchor="end" font-weight="normal" transform="translate(1287.4 1510.89) scale(1 1.18)">30</text>
<text x="0" y="0" font-size="39.5" fill="#555" text-anchor="end" font-weight="normal" transform="translate(1287.4 1410.65) scale(1 1.18)">35</text>
<text x="0" y="0" font-size="39.5" fill="#555" text-anchor="end" font-weight="normal" transform="translate(1287.4 1310.4) scale(1 1.18)">40</text>
<text x="0" y="0" font-size="39.5" fill="#555" text-anchor="end" font-weight="normal" transform="translate(1287.4 1210.16) scale(1 1.18)">45</text>
<rect x="1387.5" y="1608.51" width="169" height="489.79" fill="#70ad47" stroke="#111" stroke-width="3"/>
<path d="M1472 1577.83V1643.19M1462 1577.83h20M1462 1643.19h20" stroke="#3a3a3a" stroke-width="2.6" fill="none"/>
<rect x="1688.7" y="1892.6" width="169" height="205.7" fill="#70ad47" stroke="#111" stroke-width="3"/>
<path d="M1773.2 1882.17V1907.84M1763.2 1882.17h20M1763.2 1907.84h20" stroke="#3a3a3a" stroke-width="2.6" fill="none"/>
<rect x="1988.5" y="1465.16" width="169" height="633.14" fill="#70ad47" stroke="#111" stroke-width="3"/>
<path d="M2073 1441.7V1490.82M2063 1441.7h20M2063 1490.82h20" stroke="#3a3a3a" stroke-width="2.6" fill="none"/>
<path d="M1474.3 1284.6H2061.8M1474.3 1376.4H1770.7M1774.3 1415H2070.7" stroke="#3a3a3a" stroke-width="4.2" fill="none"/>
<text x="1706.7" y="1284" font-size="54" fill="#333" text-anchor="start" font-weight="bold" >*</text>
<text x="1567.4" y="1383.9" font-size="54" fill="#333" text-anchor="start" font-weight="bold" letter-spacing="7">***</text>
<text x="1883.5" y="1418" font-size="54" fill="#333" text-anchor="start" font-weight="bold" letter-spacing="7.6">****</text>
<text x="0" y="0" font-size="44.6" fill="#555" text-anchor="middle" font-weight="bold" transform="translate(1222.5 1646.4) rotate(-90) scale(1.11 1)">Percentage of DNA</text>
<text x="0" y="0" font-size="36" fill="#444" text-anchor="end" font-weight="normal" transform="translate(1469.6 2130.4) rotate(-45)">Large OMVs</text>
<text x="0" y="0" font-size="36" fill="#444" text-anchor="end" font-weight="normal" transform="translate(1766.6 2126.1) rotate(-45)">Small OMVs</text>
<text x="0" y="0" font-size="36" fill="#444" text-anchor="end" font-weight="normal" transform="translate(2043.4 2140.1) rotate(-45)">Free</text>
<text x="1163.6" y="1182.5" font-size="71" fill="#2b2b2b" text-anchor="start" font-weight="bold" >D</text>
</g>
</svg>
</body></html>
